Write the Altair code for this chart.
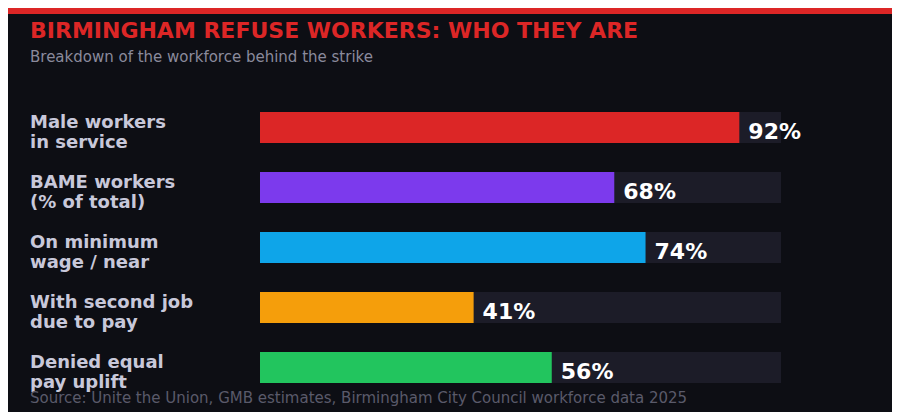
import altair as alt
import pandas as pd

categories = [
    "Male workers\nin service",
    "BAME workers\n(% of total)",
    "On minimum\nwage / near",
    "With second job\ndue to pay",
    "Denied equal\npay uplift",
]
values = [92, 68, 74, 41, 56]
colors = ["#dc2626", "#7c3aed", "#0ea5e9", "#f59e0b", "#22c55e"]
value_labels = [f"{v}%" for v in values]

title_text = "BIRMINGHAM REFUSE WORKERS: WHO THEY ARE"
subtitle_text = "Breakdown of the workforce behind the strike"
source_text = "Source: Unite the Union, GMB estimates, Birmingham City Council workforce data 2025"

BG = "#0d0e14"
TRACK = "#1c1c28"

df = pd.DataFrame({
    "cat": categories,
    "value": values,
    "color": colors,
    "label": value_labels,
    "full": [100] * len(values),
})

xs = alt.Scale(domain=[0, 100], range=[252, 773], nice=False, zero=True)
ys = alt.Scale(domain=categories, range=[89.5, 389.5], paddingInner=0, paddingOuter=0)

base = alt.Chart(df)

track = base.mark_bar(color=TRACK, height=31).encode(
    x=alt.X("full:Q", scale=xs, axis=None),
    y=alt.Y("cat:N", scale=ys, axis=None, sort=categories),
)

bars = base.mark_bar(height=31).encode(
    x=alt.X("value:Q", scale=xs, axis=None),
    y=alt.Y("cat:N", scale=ys, axis=None, sort=categories),
    color=alt.Color("color:N", scale=None, legend=None),
)

vals = base.mark_text(
    align="left", baseline="alphabetic", dx=9, dy=11,
    font="DejaVu Sans", fontWeight="bold", fontSize=22, color="#ffffff",
).encode(
    x=alt.X("value:Q", scale=xs, axis=None),
    y=alt.Y("cat:N", scale=ys, axis=None, sort=categories),
    text="label:N",
)

cats = base.mark_text(
    align="left", baseline="alphabetic", lineBreak="\n", lineHeight=20,
    font="DejaVu Sans", fontWeight="bold", fontSize=18, color="#c8c8da",
).encode(
    x=alt.value(22),
    y=alt.Y("cat:N", scale=ys, axis=None, sort=categories),
    text="cat:N",
)

one = pd.DataFrame({"t": [title_text], "s": [subtitle_text], "src": [source_text]})
ob = alt.Chart(one)

stripe = ob.mark_rect(color="#dc2626").encode(
    x=alt.value(0), x2=alt.value(884), y=alt.value(0), y2=alt.value(6)
)
title = ob.mark_text(
    align="left", baseline="alphabetic", font="DejaVu Sans", fontWeight="bold",
    fontSize=22, color="#dc2626",
).encode(x=alt.value(22), y=alt.value(30), text="t:N")
subtitle = ob.mark_text(
    align="left", baseline="alphabetic", font="DejaVu Sans",
    fontSize=15, color="#8a8a9c",
).encode(x=alt.value(22), y=alt.value(54), text="s:N")
source = ob.mark_text(
    align="left", baseline="alphabetic", font="DejaVu Sans",
    fontSize=15, color="#5a5a6a",
).encode(x=alt.value(22), y=alt.value(394.5), text="src:N")

chart = alt.layer(stripe, title, subtitle, track, bars, vals, cats, source).properties(
    width=884, height=404, background=BG, padding=0,
    autosize=alt.AutoSizeParams(type="none"),
).configure_view(stroke=None)

chart.save("out.html", embed_options={"renderer": "svg", "actions": False})
